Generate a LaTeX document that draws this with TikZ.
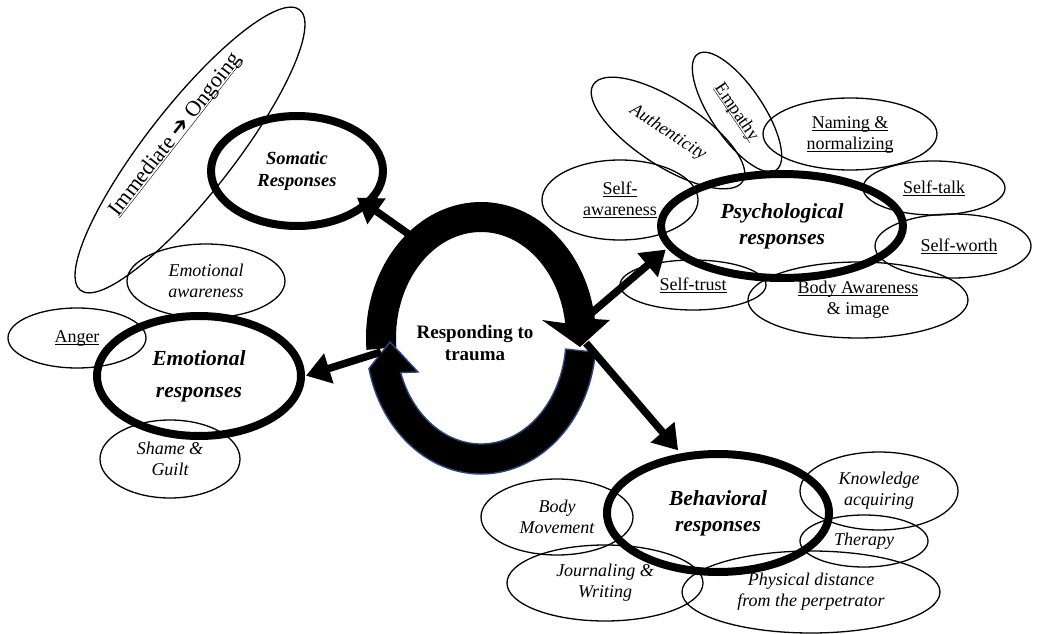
\documentclass[tikz,border=0pt]{standalone}
\usepackage{fontspec}
\setmainfont{Liberation Serif}
\newfontfamily\symfont{DejaVu Sans}
\usetikzlibrary{shapes.geometric,arrows.meta}
% underline that ignores descenders
\newcommand\uln[1]{\underline{\raisebox{0pt}[\height][0pt]{#1}}}
\definecolor{edgeblue}{RGB}{40,70,130}
\tikzset{
  leaf/.style={ellipse, draw, line width=1.3pt, inner sep=0pt, align=center,
    font=\fontsize{18}{21}\selectfont},
  leafit/.style={leaf, font=\fontsize{18}{21}\selectfont\itshape},
  hub/.style={ellipse, draw, line width=8pt, inner sep=0pt, align=center,
    font=\fontsize{21.5}{26}\selectfont\bfseries\itshape},
  conn/.style={line width=7.5pt, -{Triangle[length=24pt,width=30pt]}},
}
\begin{document}
\begin{tikzpicture}[x=1pt,y=1pt]
\fill[white] (0,0) rectangle (1037,-634);
\useasboundingbox (0,0) rectangle (1037,-634);

% ---------- satellite ellipses ----------
\node[leaf, minimum width=356pt, minimum height=88pt, rotate=52] (imm) at (190,-150) {};
\node[font=\fontsize{22}{26}\selectfont, rotate=52, anchor=base] (immtxt) at (180,-138)
  {\uln{Immediate {\symfont ➔} Ongoing}};

\node[leafit, minimum width=158pt, minimum height=74pt] (emoaw) at (206,-281) {Emotional\\awareness};
\node[leaf,   minimum width=138pt, minimum height=60pt] (anger) at (77,-338) {\uln{Anger}};
\node[leafit, minimum width=140pt, minimum height=78pt] (shame) at (170,-459) {Shame \&\\Guilt};

\node[leafit, minimum width=178pt, minimum height=66pt, rotate=-33] (auth) at (668,-133) {Authenticity};
\node[leaf,   minimum width=140pt, minimum height=52pt, rotate=-56] (emp) at (737,-112) {\uln{Empathy}};
\node[leaf, minimum width=174pt, minimum height=72pt] (naming) at (850,-134) {\uln{Naming \&}\\\uln{normalizing}};
\node[leaf, minimum width=142pt, minimum height=54pt] (stalk) at (934,-188) {\uln{Self-talk}};
\node[leaf, minimum width=156pt, minimum height=64pt] (sworth) at (953,-246) {\hspace*{12pt}\uln{Self-worth}};
\node[leaf, minimum width=220pt, minimum height=76pt] (bodyaw) at (858,-300) {\uln{Body Awareness}\\\& image};
\node[leaf, minimum width=146pt, minimum height=50pt] (strust) at (693,-285) {\uln{Self-trust}};
\node[leaf, minimum width=156pt, minimum height=80pt] (saware) at (620,-200) {\uln{Self-}\\\uln{awareness}};

\node[leafit, minimum width=152pt, minimum height=76pt] (bmove) at (557,-517) {Body\\Movement};
\node[leafit, minimum width=196pt, minimum height=76pt] (journ) at (605,-583) {Journaling \&\\Writing};
\node[leafit, minimum width=158pt, minimum height=78pt] (know) at (879,-491) {Knowledge\\acquiring};
\node[leafit, minimum width=128pt, minimum height=52pt] (ther) at (864,-541) {Therapy};
\node[leafit, minimum width=258pt, minimum height=82pt] (phys) at (811,-592) {Physical distance\\from the perpetrator};

% ---------- response categories ----------
\node[hub, minimum width=172pt, minimum height=110pt,
  font=\fontsize{18.5}{22}\selectfont\bfseries\itshape] (somatic) at (297,-171) {Somatic\\Responses};
\node[hub, minimum width=242pt, minimum height=104pt] (psych) at (782,-226) {Psychological\\responses};
\node[hub, minimum width=204pt, minimum height=120pt,
  font=\fontsize{21.5}{32}\selectfont\bfseries\itshape] (emo) at (199,-376) {Emotional\\responses};
\node[hub, minimum width=222pt, minimum height=118pt] (behav) at (718,-513) {Behavioral\\responses};

% ---------- central cycle of two curved arrows ----------
\begin{scope}[shift={(481,-338)}]
  \fill[black] (185:115 and 136)
    arc[start angle=185, end angle=8, x radius=115, y radius=136]
    -- (129,18) -- (99,-9) -- (61,18) -- (8:85 and 106)
    arc[start angle=8, end angle=185, x radius=85, y radius=106] -- cycle;
  \filldraw[fill=black, draw=edgeblue, line width=1.4pt] (-6:115 and 136)
    arc[start angle=-6, end angle=-167, x radius=115, y radius=136]
    -- (-91,-4) -- (-63,-34) -- (-161:85 and 106)
    arc[start angle=-161, end angle=-6, x radius=85, y radius=106] -- cycle;
\end{scope}
\node[font=\fontsize{19}{22.5}\selectfont\bfseries, align=center] (core) at (475,-343) {Responding to\\trauma};

% ---------- connectors ----------
\coordinate (rsom) at (417,-240);
\coordinate (rpsy) at (588,-316);
\coordinate (remo) at (381,-352);
\coordinate (rbeh) at (586,-343);
\draw[conn, shorten >=-15pt] (rsom) -- (somatic.-26);
\draw[conn, shorten >=2pt] (rpsy) -- (psych.191);
\draw[conn, shorten >=1pt] (remo) -- (emo.0);
\draw[conn, shorten >=4pt] (rbeh) -- (behav.122);
\end{tikzpicture}
\end{document}
